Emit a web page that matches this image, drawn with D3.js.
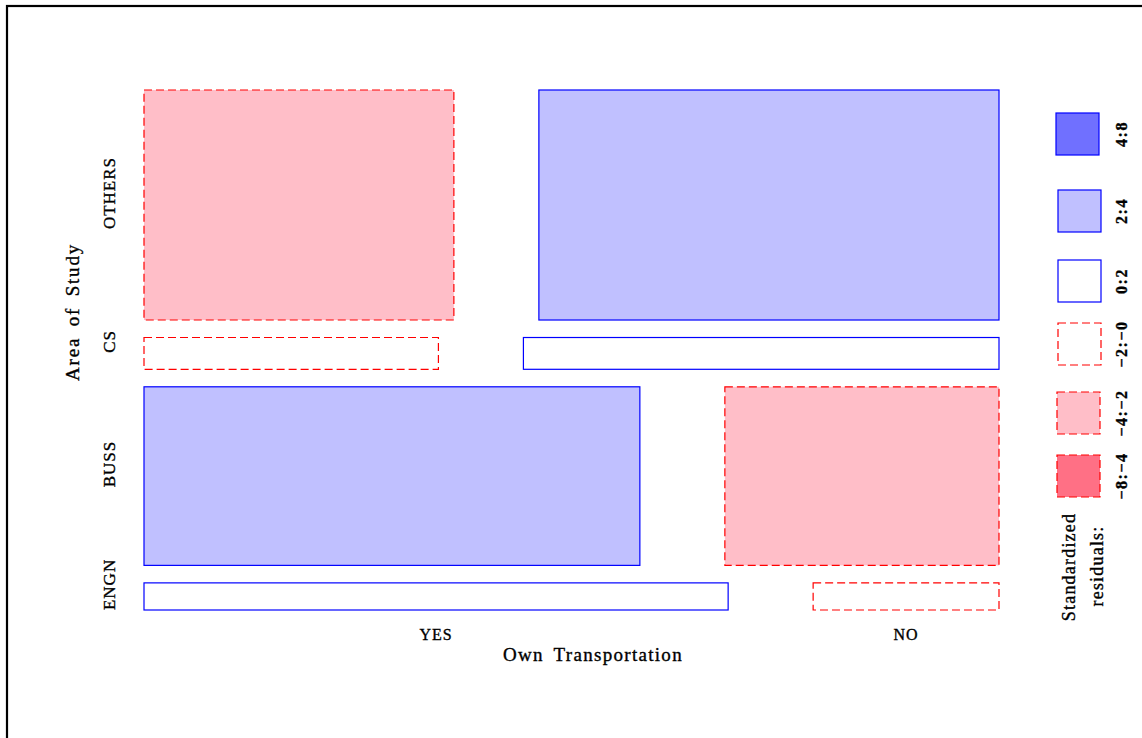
<!DOCTYPE html>
<html>
<head>
<meta charset="utf-8">
<script src="https://cdn.jsdelivr.net/npm/d3@7"></script>
<style>
  html, body { margin: 0; padding: 0; background: #fff; }
  svg { display: block; }
  text { font-family: "Liberation Serif", "DejaVu Serif", serif; fill: #000; stroke: #000; stroke-width: 0.35; }
</style>
</head>
<body>
<svg id="chart" width="1142" height="738"></svg>
<script>
// Contingency table: Area of Study (rows, top to bottom) by Own Transportation
const areas = ["OTHERS", "CS", "BUSS", "ENGN"];
const transport = ["YES", "NO"];
const countsYes = [99, 13, 123, 22];
const countsNo  = [147, 21, 68, 7];

// Shading classes for standardized residuals
const residualBreaks = [-4, -2, 0, 2, 4];
const legendLabels = ["\u22128:\u22124", "\u22124:\u22122", "\u22122:\u22120", "0:2", "2:4", "4:8"];
const legendFills  = ["#ff7085", "#ffbec8", "#ffffff", "#ffffff", "#c0c0ff", "#7070ff"];
const legendStrokes = ["#ff0000", "#ff0000", "#ff0000", "#0000ff", "#0000ff", "#0000ff"];

const svg = d3.select("#chart");

// outer frame
svg.append("rect")
  .attr("x", 7).attr("y", 6)
  .attr("width", 1160).attr("height", 760)
  .attr("fill", "none").attr("stroke", "#000").attr("stroke-width", 2.2);

// plot region
const plotLeft = 144, plotRight = 999, plotTop = 90, plotBottom = 610;
const rowGap = 17.5, colGap = 85;

const rowTotals = areas.map((a, i) => countsYes[i] + countsNo[i]);
const grand = d3.sum(rowTotals);
const totYes = d3.sum(countsYes), totNo = d3.sum(countsNo);

const hScale = d3.scaleLinear().domain([0, grand])
  .range([0, (plotBottom - plotTop) - rowGap * (areas.length - 1)]);
const wScale = d3.scaleLinear().domain([0, 1])
  .range([0, (plotRight - plotLeft) - colGap]);

const shadeIndex = d3.scaleThreshold().domain(residualBreaks).range([0, 1, 2, 3, 4, 5]);

const cells = [];
let yCursor = plotTop;
areas.forEach((area, i) => {
  const h = hScale(rowTotals[i]);
  const obs = [countsYes[i], countsNo[i]];
  const colTot = [totYes, totNo];
  let xCursor = plotLeft;
  obs.forEach((o, j) => {
    const w = wScale(o / rowTotals[i]);
    const expected = rowTotals[i] * colTot[j] / grand;
    const resid = (o - expected) / Math.sqrt(expected);
    cells.push({ area, trans: transport[j], x: xCursor, y: yCursor, w, h, resid, row: i, col: j });
    xCursor += w + colGap;
  });
  yCursor += h + rowGap;
});

svg.append("g").selectAll("rect").data(cells).join("rect")
  .attr("x", d => d.x).attr("y", d => d.y)
  .attr("width", d => d.w).attr("height", d => d.h)
  .attr("fill", d => legendFills[shadeIndex(d.resid)])
  .attr("stroke", d => legendStrokes[shadeIndex(d.resid)])
  .attr("stroke-width", 1.2)
  .attr("stroke-dasharray", d => d.resid < 0 ? "8,4" : null);

// row labels (Area of Study)
const rowCells = cells.filter(d => d.col === 0);
svg.append("g").selectAll("text").data(rowCells).join("text")
  .attr("transform", d => `translate(115,${d.y + d.h / 2 - 12}) rotate(-90)`)
  .attr("text-anchor", "middle")
  .attr("font-size", 17)
  .attr("letter-spacing", 1)
  .text(d => d.area);

// column labels, centred on the bottom row's cells
const bottomCells = cells.filter(d => d.row === areas.length - 1);
svg.append("g").selectAll("text").data(bottomCells).join("text")
  .attr("x", d => d.x + d.w / 2).attr("y", 640)
  .attr("text-anchor", "middle")
  .attr("font-size", 16)
  .attr("letter-spacing", 1)
  .text(d => d.trans);

// axis titles
svg.append("text")
  .attr("x", 593).attr("y", 661)
  .attr("text-anchor", "middle")
  .attr("font-size", 19)
  .attr("letter-spacing", 1.3)
  .attr("word-spacing", 4)
  .text("Own Transportation");

svg.append("text")
  .attr("transform", "translate(79,312) rotate(-90)")
  .attr("text-anchor", "middle")
  .attr("font-size", 19)
  .attr("letter-spacing", 1.8)
  .attr("word-spacing", 4)
  .text("Area of Study");

// legend (from bottom: -8:-4 up to 4:8)
const legendTops = [455, 392, 323, 260, 190, 113];
const legendX = [1057, 1057, 1058, 1058, 1058, 1056];
const lg = svg.append("g");
legendLabels.forEach((lab, k) => {
  lg.append("rect")
    .attr("x", legendX[k]).attr("y", legendTops[k])
    .attr("width", 43).attr("height", 42)
    .attr("fill", legendFills[k])
    .attr("stroke", legendStrokes[k])
    .attr("stroke-width", 1.2)
    .attr("stroke-dasharray", k < 3 ? "8,4" : null);
  lg.append("text")
    .attr("transform", `translate(1127,${legendTops[k] + 21}) rotate(-90)`)
    .attr("text-anchor", "middle")
    .attr("font-size", 16)
    .attr("font-weight", "bold")
    .attr("letter-spacing", 1.5)
    .text(lab);
});

lg.append("text")
  .attr("transform", "translate(1075,567) rotate(-90)")
  .attr("text-anchor", "middle")
  .attr("font-size", 18)
  .attr("letter-spacing", 1.2)
  .text("Standardized");
lg.append("text")
  .attr("transform", "translate(1103,566) rotate(-90)")
  .attr("text-anchor", "middle")
  .attr("font-size", 18)
  .attr("letter-spacing", 1.2)
  .text("residuals:");
</script>
</body>
</html>
